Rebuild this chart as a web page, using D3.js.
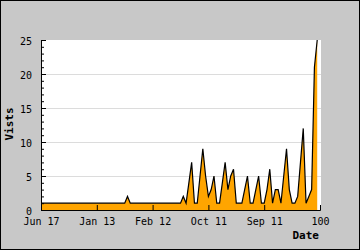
<!DOCTYPE html>
<html>
<head>
<meta charset="utf-8">
<script src="https://cdn.jsdelivr.net/npm/d3@7"></script>
<style>
  body { margin: 0; background: #fff; }
  text { font-family: "DejaVu Sans Mono", monospace; }
</style>
</head>
<body>
<div id="chart"></div>
<script>
// Chart data
var xTickValues = [0, 20, 40, 60, 80, 100];
var xTickLabels = ["Jun 17", "Jan 13", "Feb 12", "Oct 11", "Sep 11", "100"];
var yTickValues = [0, 5, 10, 15, 20, 25];
var visits = [
  1, 1, 1, 1, 1, 1, 1, 1, 1, 1,
  1, 1, 1, 1, 1, 1, 1, 1, 1, 1,
  1, 1, 1, 1, 1, 1, 1, 1, 1, 1,
  1, 2, 1, 1, 1, 1, 1, 1, 1, 1,
  1, 1, 1, 1, 1, 1, 1, 1, 1, 1,
  1, 2, 1, 4, 7, 1, 1, 5, 9, 5,
  2, 3, 5, 1, 1, 4, 7, 3, 5, 6,
  1, 1, 1, 3, 5, 1, 1, 3, 5, 1,
  1, 3, 6, 1, 3, 3, 1, 5, 9, 3,
  1, 1, 2, 7, 12, 1, 2, 3, 21, 25
];

// Set svg dimensions
const width = 360;
const height = 250;
var margin = {top: 40, right: 40, bottom: 40, left: 41};
var plotWidth = 279;
var plotHeight = 170;

var svg = d3.select("#chart")
            .append("svg")
                .attr("width", width)
                .attr("height", height);

// Grey background with black frame
svg.append("rect")
    .attr("x", 0.5)
    .attr("y", 0.5)
    .attr("width", width - 1)
    .attr("height", height - 1)
    .attr("fill", "#c8c8c8")
    .attr("stroke", "#000")
    .attr("stroke-width", 1);

var g = svg.append("g")
            .attr("transform", "translate(" + margin.left + "," + margin.top + ")");

// White plot area
g.append("rect")
    .attr("width", plotWidth + 1)
    .attr("height", plotHeight)
    .attr("fill", "#fff");

// Scales
var scaleX = d3.scaleLinear()
                .domain([0, 100])
                .range([0, plotWidth]);

var scaleY = d3.scaleLinear()
                .domain([0, 25])
                .range([plotHeight, 0]);

// Horizontal grid lines
g.append("g")
    .selectAll("line")
    .data([5, 10, 15, 20])
    .join("line")
        .attr("x1", 0)
        .attr("x2", plotWidth + 1)
        .attr("y1", function(d) { return Math.round(scaleY(d)) + 0.5; })
        .attr("y2", function(d) { return Math.round(scaleY(d)) + 0.5; })
        .attr("stroke", "#dcdcdc")
        .attr("stroke-width", 1);

// Area and line
var area = d3.area()
            .x(function(d, i) { return scaleX(i); })
            .y0(plotHeight)
            .y1(function(d) { return scaleY(d); });

var line = d3.line()
            .x(function(d, i) { return scaleX(i); })
            .y(function(d) { return scaleY(d); });

g.append("path")
    .datum(visits)
    .attr("d", area)
    .attr("fill", "#ffa500");

g.append("path")
    .datum(visits)
    .attr("d", line)
    .attr("fill", "none")
    .attr("stroke", "#000")
    .attr("stroke-width", 1.2)
    .attr("stroke-linejoin", "miter");

// Minor y ticks
g.append("g")
    .attr("class", "axisYMinor")
    .call(d3.axisLeft(scaleY)
            .tickValues(d3.range(0, 26))
            .tickSize(-3)
            .tickFormat(""))
    .call(function(a) { a.select(".domain").remove(); });

// Y axis
var axisY = g.append("g")
    .attr("class", "axisY")
    .call(d3.axisLeft(scaleY)
            .tickValues(yTickValues)
            .tickSizeInner(-5)
            .tickSizeOuter(0)
            .tickPadding(9));

// X axis
var axisX = g.append("g")
    .attr("class", "axisX")
    .attr("transform", "translate(0," + plotHeight + ")")
    .call(d3.axisBottom(scaleX)
            .tickValues(xTickValues)
            .tickSizeInner(-5)
            .tickSizeOuter(-5)
            .tickPadding(8)
            .tickFormat(function(d, i) { return xTickLabels[i]; }));

g.selectAll(".axisX, .axisY, .axisYMinor")
    .selectAll("path, line")
    .attr("stroke", "#000");

g.selectAll(".axisX text, .axisY text")
    .attr("fill", "#000")
    .style("font-size", "10px")
    .style("font-family", "DejaVu Sans Mono");

axisY.selectAll("text").attr("dy", "0.42em");

// Axis titles
svg.append("text")
    .attr("x", 319)
    .attr("y", 239)
    .attr("text-anchor", "end")
    .style("font-size", "11px")
    .style("font-weight", "bold")
    .text("Date");

svg.append("text")
    .attr("transform", "translate(13,124) rotate(-90)")
    .attr("text-anchor", "middle")
    .style("font-size", "11px")
    .style("font-weight", "bold")
    .text("Vists");
</script>
</body>
</html>
